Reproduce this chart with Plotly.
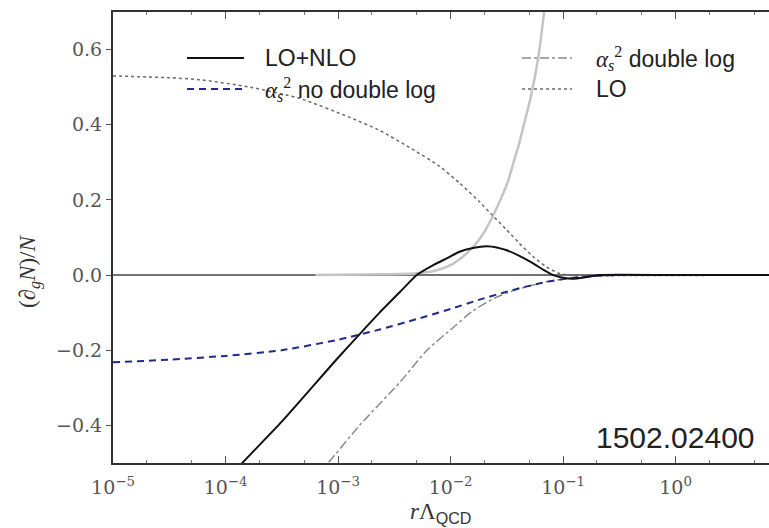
import plotly.graph_objects as go

# ---------------- data ----------------
lonlo_x = [1e-4, 1.41e-4, 3.16e-4, 1e-3, 1.58e-3, 2.34e-3, 3.55e-3, 5.01e-3, 7.08e-3, 9.33e-3,
           0.0120, 0.0158, 0.0209, 0.0263, 0.0316, 0.0417, 0.0537, 0.0676, 0.0813, 0.1,
           0.120, 0.158, 0.209, 1.0, 7.9]
lonlo_y = [-0.55, -0.50, -0.39, -0.22, -0.155, -0.10, -0.045, 0.0, 0.027, 0.045,
           0.062, 0.072, 0.077, 0.073, 0.066, 0.05, 0.032, 0.013, 0.0, -0.007,
           -0.01, -0.006, 0.0, 0.0, 0.0]

nodl_x = [1e-5, 3.16e-5, 1e-4, 3.16e-4, 1e-3, 2.34e-3, 5.01e-3, 9.33e-3, 0.0178, 0.0355,
          0.0708, 0.123, 0.2, 0.316, 7.9]
nodl_y = [-0.232, -0.225, -0.215, -0.200, -0.172, -0.145, -0.117, -0.093, -0.066, -0.040,
          -0.018, -0.007, -0.002, 0.0, 0.0]

dl_x = [6.31e-4, 8.13e-4, 1.55e-3, 3.55e-3, 6.17e-3, 0.0105, 0.0158, 0.0251, 0.0355, 0.0708,
        0.123, 0.316, 7.9]
dl_y = [-0.53, -0.50, -0.40, -0.285, -0.20, -0.14, -0.095, -0.06, -0.042, -0.018,
        -0.007, 0.0, 0.0]

lo_x = [1e-5, 3.16e-5, 5.89e-5, 1.66e-4, 4.57e-4, 1.26e-3, 2.34e-3, 4.57e-3, 7.94e-3, 0.0120,
        0.0178, 0.0234, 0.0316, 0.0407, 0.0537, 0.0708, 0.0933, 0.126, 7.9]
lo_y = [0.53, 0.525, 0.52, 0.50, 0.47, 0.42, 0.385, 0.335, 0.29, 0.245,
        0.197, 0.16, 0.12, 0.085, 0.05, 0.022, 0.004, 0.0, 0.0]

gray_x = [6.31e-4, 2.51e-3, 5.01e-3, 7.08e-3, 9.77e-3, 0.0126, 0.0158, 0.0200, 0.0245, 0.0282,
          0.0324, 0.0363, 0.0407, 0.0457, 0.0513, 0.0603, 0.0692]
gray_y = [0.0, 0.002, 0.005, 0.011, 0.025, 0.047, 0.074, 0.115, 0.165, 0.205,
          0.25, 0.30, 0.35, 0.41, 0.47, 0.58, 0.72]

x_tickvals = [1e-5, 1e-4, 1e-3, 1e-2, 1e-1, 1e0]
x_ticktext = ["10<sup>−5</sup>", "10<sup>−4</sup>", "10<sup>−3</sup>", "10<sup>−2</sup>",
              "10<sup>−1</sup>", "10<sup>0</sup>"]
y_tickvals = [-0.4, -0.2, 0.0, 0.2, 0.4, 0.6]
y_ticktext = ["−0.4", "−0.2", "0.0", "0.2", "0.4", "0.6"]

ALPHA = "<span style='font-family:Liberation Serif'><i>α</i><sub><i>s</i></sub><sup>2</sup></span>"
legend_labels = ["LO+NLO", ALPHA + " no double log", ALPHA + " double log", "LO"]

# ---------------- styles ----------------
st_lonlo = dict(color="#111111", width=2)
st_nodl = dict(color="#1f2a8a", width=2, dash="7px,5px")
st_dl = dict(color="#8a8a8a", width=1.5, dash="dashdot")
st_lo = dict(color="#6a6a6a", width=1.5, dash="dot")
st_gray = dict(color="#c4c4c4", width=2.5)

fig = go.Figure()
fig.add_trace(go.Scatter(x=gray_x, y=gray_y, mode="lines", line=dict(st_gray, shape="spline", smoothing=0.6),
                         showlegend=False))
fig.add_hline(y=0, line=dict(color="#444444", width=1.5), layer="below")
fig.add_trace(go.Scatter(x=lo_x, y=lo_y, mode="lines", line=dict(st_lo, shape="spline", smoothing=0.6),
                         showlegend=False))
fig.add_trace(go.Scatter(x=dl_x, y=dl_y, mode="lines", line=dict(st_dl, shape="spline", smoothing=0.6),
                         showlegend=False))
fig.add_trace(go.Scatter(x=nodl_x, y=nodl_y, mode="lines", line=dict(st_nodl, shape="spline", smoothing=0.6),
                         showlegend=False))
fig.add_trace(go.Scatter(x=lonlo_x, y=lonlo_y, mode="lines", line=dict(st_lonlo, shape="spline", smoothing=0.5),
                         showlegend=False))

W, H = 769, 528
L, R, T, B = 113, 0, 12, 65
pw, ph = W - L - R, H - T - B


def px(xp):
    return (xp - L) / pw


def py(yp):
    return (H - B - yp) / ph


serif = "DejaVu Serif, Liberation Serif, serif"
sans = "Liberation Sans, Arial, sans-serif"

# manual two-column legend (samples + labels)
leg_items = [
    (st_lonlo, legend_labels[0], 187, 244, 263, 58),
    (st_nodl, legend_labels[1], 187, 244, 263, 89),
    (st_dl, legend_labels[2], 522, 572, 594, 58),
    (st_lo, legend_labels[3], 522, 572, 594, 89),
]
for st, lab, x0, x1, tx, yy in leg_items:
    fig.add_shape(type="line", xref="paper", yref="paper", x0=px(x0), x1=px(x1),
                  y0=py(yy), y1=py(yy), line=st)
    fig.add_annotation(xref="paper", yref="paper", x=px(tx), y=py(yy), text=lab,
                       showarrow=False, xanchor="left", yanchor="middle",
                       font=dict(family=sans, size=23, color="#222222"))

fig.add_annotation(xref="paper", yref="paper", x=px(757), y=py(437), text="1502.02400",
                   showarrow=False, xanchor="right", yanchor="middle",
                   font=dict(family=sans, size=30, color="#222222"))
fig.add_annotation(xref="paper", yref="paper", x=px(30), y=py(272),
                   text="(∂<sub><i>g</i></sub><i>N</i>)/<i>N</i>", textangle=-90,
                   showarrow=False, xanchor="center", yanchor="middle",
                   font=dict(family="Liberation Serif, serif", size=23, color="#333333"))
fig.add_annotation(xref="paper", yref="paper", x=px(440), y=py(513),
                   text="<i>r</i>Λ<sub><span style='font-family:Liberation Sans'>QCD</span></sub>",
                   showarrow=False, xanchor="center", yanchor="middle",
                   font=dict(family="Liberation Serif, serif", size=23, color="#333333"))

fig.update_layout(
    width=W, height=H, margin=dict(l=L, r=R, t=T, b=B),
    paper_bgcolor="white", plot_bgcolor="white", showlegend=False,
    xaxis=dict(type="log", range=[-5, 0.83], tickvals=x_tickvals, ticktext=x_ticktext,
               showline=True, linecolor="#333333", linewidth=2, mirror="ticks",
               ticks="inside", ticklen=7, tickcolor="#555555", showgrid=False, zeroline=False,
               ticklabelstandoff=6,
               minor=dict(ticks="inside", ticklen=3, tickcolor="#777777", showgrid=False),
               tickfont=dict(family=serif, size=19, color="#555555")),
    yaxis=dict(range=[-0.5, 0.7], tickvals=y_tickvals, ticktext=y_ticktext,
               showline=True, linecolor="#333333", linewidth=2,
               ticks="outside", ticklen=5, tickcolor="#555555", showgrid=False, zeroline=False,
               tickfont=dict(family=serif, size=19, color="#555555")),
)

fig.write_html("out.html")
